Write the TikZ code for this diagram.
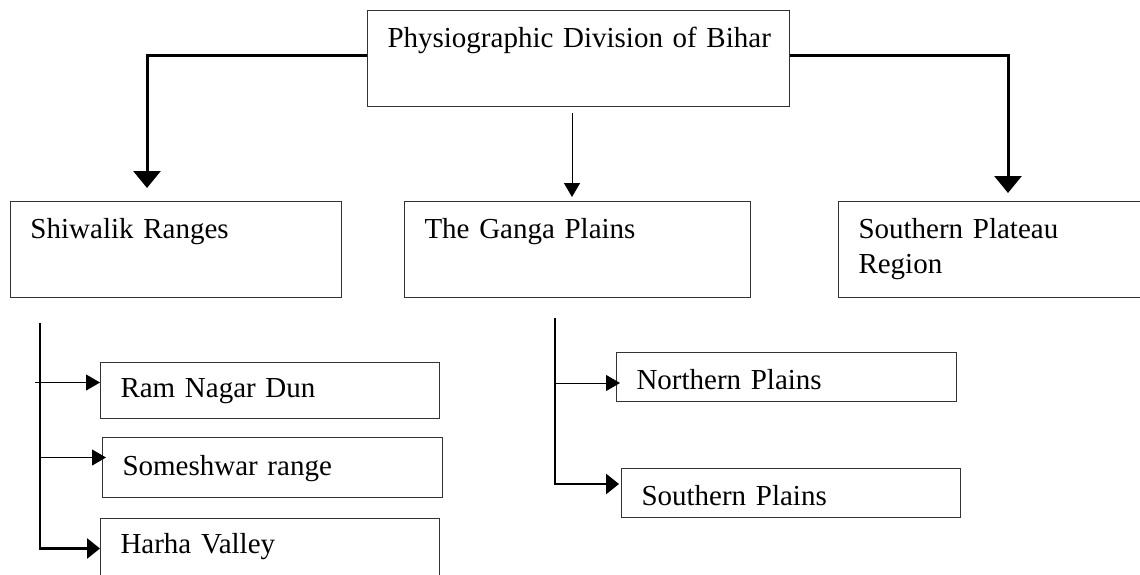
\documentclass[tikz,border=0pt]{standalone}
\usepackage{fontspec}
\setmainfont{Liberation Serif}
\usetikzlibrary{arrows.meta}
\newcommand\divfont{\fontsize{29pt}{35pt}\selectfont}

\begin{document}
\begin{tikzpicture}[x=1pt, y=-1pt,
  main/.style = {draw=black!80, line width=1pt, anchor=north west, inner xsep=20pt, inner ysep=0pt, font=\divfont},
  headbox/.style = {main, text height=37pt, text depth=59pt},
  arm/.style = {line width=3pt, -{Triangle[length=17pt,width=27pt]}},
  branch/.style = {line width=2.75pt, -{Triangle[length=13pt,width=20pt]}},
  twig/.style = {line width=1pt, -{Triangle[length=14pt,width=16pt]}}]
	\useasboundingbox (0,0) rectangle (1140,575);
	\clip (0,0) rectangle (1140,575);
	\node[headbox, text width=382pt] (bihar) at (367,10){\mbox{Physiographic Division of Bihar}};
	\node[headbox, text width=291pt] (shiwalik) at (10,201){Shiwalik Ranges};
	\node[headbox, text width=306pt] (ganga) at (404,201){The Ganga Plains};
	\node[headbox, text width=300pt] (plateau) at (838,201){Southern Plateau\\Region};
	\node[main, text width=299pt, text height=35pt, text depth=21pt] (ramnagar) at (100,362){Ram Nagar Dun};
	\node[main, text width=300pt, text height=38pt, text depth=22pt] (someshwar) at (102,437){Someshwar range};
	\node[main, text width=299pt, text height=35pt, text depth=25pt] (harha) at (100,518){Harha Valley};
	\node[main, text width=300pt, text height=37pt, text depth=12pt] (northern) at (616,352){Northern Plains};
	\node[main, text width=299pt, text height=37pt, text depth=12pt] (southern) at (621,468){Southern Plains};
	\draw[arm, shorten >=13pt] ([yshift=3pt]bihar.west) -| ([xshift=137pt]shiwalik.north west);
	\draw[arm, shorten >=8pt] ([yshift=3pt]bihar.east) -| ([xshift=170pt]plateau.north west);
	\draw[twig, shorten <=6pt, shorten >=4pt] ([xshift=205pt]bihar.south west) -- ([xshift=168pt]ganga.north west);
	\coordinate (sspine) at ([xshift=30pt,yshift=-25pt]shiwalik.south west);
	\draw[branch] (sspine) |- (harha.west);
	\draw[twig] ([xshift=-65pt,yshift=8pt]ramnagar.west) -- ([yshift=8pt]ramnagar.west);
	\draw[twig] ([xshift=-62pt,yshift=10pt]someshwar.west) -- ([xshift=4pt,yshift=10pt]someshwar.west);
	\coordinate (gspine) at ([xshift=151pt,yshift=-20pt]ganga.south west);
	\draw[branch] (gspine) |- ([xshift=-2pt,yshift=9pt]southern.west);
	\draw[twig] ([xshift=-61pt,yshift=-6pt]northern.west) -- ([xshift=4pt,yshift=-6pt]northern.west);
\end{tikzpicture}
\end{document}
